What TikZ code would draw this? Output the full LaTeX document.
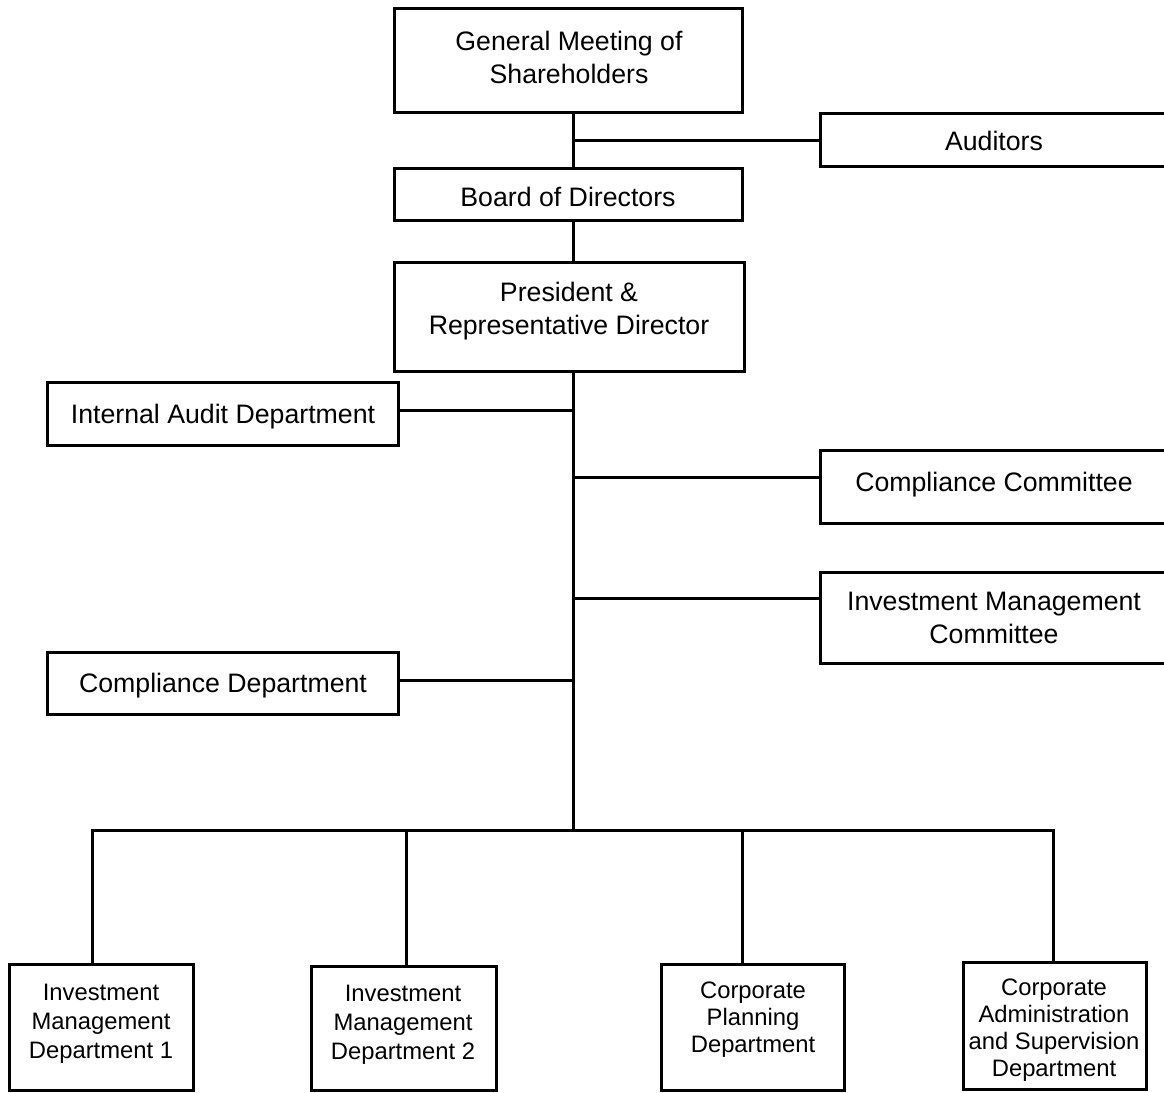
\documentclass[tikz,border=0pt]{standalone}
\usepackage{fontspec}
\setmainfont{Liberation Sans}
\usetikzlibrary{fit}
\begin{document}
\begin{tikzpicture}[x=1pt,y=-1pt,
  box/.style={draw, line width=3pt, inner sep=0pt},
  conn/.style={draw, line width=3pt},
  lbl/.style={align=center, inner sep=0pt, font=\fontsize{26.7pt}{33pt}\selectfont},
  slbl/.style={align=center, inner sep=0pt, font=\fontsize{23.8pt}{27pt}\selectfont},
  slblw/.style={align=center, inner sep=0pt, font=\fontsize{23.8pt}{28.8pt}\selectfont}]
\clip (0,0) rectangle (1164,1092);
% boxes
\node[box, fit={(394,8) (742,112)}] (gm) {};
\node[box, fit={(394,168) (742,220)}] (board) {};
\node[box, fit={(394,262) (744,371)}] (pres) {};
\node[box, fit={(820,113) (1170,166)}] (aud) {};
\node[box, fit={(47,382) (398,445)}] (iad) {};
\node[box, fit={(820,450) (1170,523)}] (cc) {};
\node[box, fit={(820,572) (1170,663)}] (imc) {};
\node[box, fit={(47,652) (398,714)}] (cd) {};
\node[box, fit={(9,964) (193,1090)}] (imdA) {};
\node[box, fit={(311,966) (496,1090)}] (imdB) {};
\node[box, fit={(661,964) (844,1090)}] (cpd) {};
\node[box, fit={(963,962) (1146,1089)}] (casd) {};
% texts
\node[lbl] (gmt) at (569,57) {General Meeting of\\Shareholders};
\node[lbl] (boardt) at (568,197) {Board of Directors};
\node[lbl] (prest) at (569,311) {President \&\\Representative Director};
\node[lbl] (audt) at (994,141) {Auditors};
\node[lbl] (iadt) at (223,417) {Internal Audit Department};
\node[lbl] (cct) at (994,485) {Compliance Committee};
\node[lbl] (imct) at (994,618) {Investment Management\\Committee};
\node[lbl] (cdt) at (223,686) {Compliance Department};
\node[slblw] (imdAt) at (101,1024) {Investment\\Management\\Department 1};
\node[slblw] (imdBt) at (403,1025) {Investment\\Management\\Department 2};
\node[slbl] (cpdt) at (753,1020) {Corporate\\Planning\\Department};
\node[slbl] (casdt) at (1054,1030) {Corporate\\Administration\\and Supervision\\Department};
% spine coordinates
\coordinate (sp) at (573,0);
\coordinate (audj) at (573,140);
\coordinate (iadj) at (573,410);
\coordinate (ccj) at (573,477);
\coordinate (imcj) at (573,598);
\coordinate (cdj) at (573,680);
\coordinate (bus) at (573,830);
\coordinate (b1) at (92,830);
\coordinate (b2) at (406,830);
\coordinate (b3) at (742,830);
\coordinate (b4) at (1053,830);
% connectors
\draw[conn] (gm.south -| sp) -- (board.north -| sp);
\draw[conn] (audj) -- (aud.west |- audj);
\draw[conn] (board.south -| sp) -- (pres.north -| sp);
\draw[conn] (pres.south -| sp) -- (bus);
\draw[conn] (iadj) -- (iad.east |- iadj);
\draw[conn] (ccj) -- (cc.west |- ccj);
\draw[conn] (imcj) -- (imc.west |- imcj);
\draw[conn] (cdj) -- (cd.east |- cdj);
\draw[conn] (imdA.north -| b1) -- (b1) -- (b4) -- (casd.north -| b4);
\draw[conn] (b2) -- (imdB.north -| b2);
\draw[conn] (b3) -- (cpd.north -| b3);
\end{tikzpicture}
\end{document}
